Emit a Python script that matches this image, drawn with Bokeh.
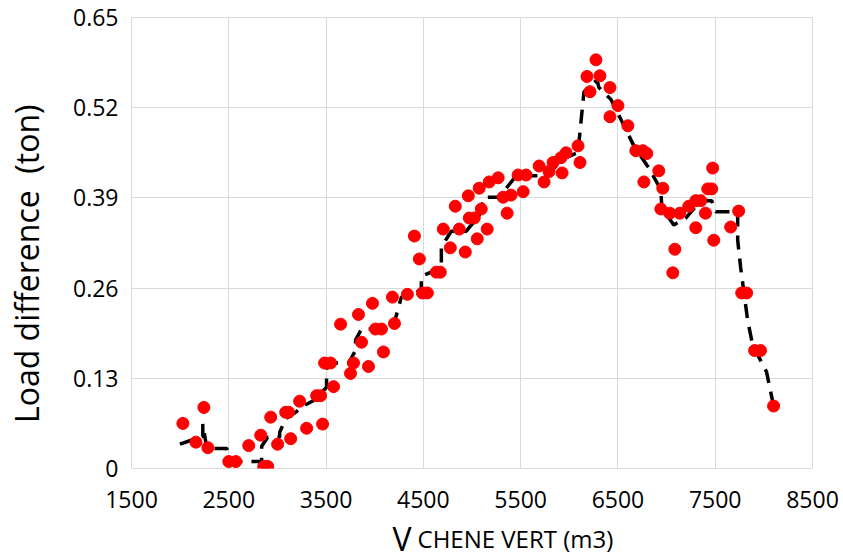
from bokeh.plotting import figure
from bokeh.models import FixedTicker, Range1d
from bokeh.layouts import column
from bokeh.core.properties import value
from bokeh.embed import file_html
from bokeh.resources import INLINE

# ---- data ----
x_pts = [2028, 2162, 2244, 2285, 2500, 2572, 2705, 2828, 2859, 2900,
         2931, 3002, 3085, 3115, 3136, 3228, 3300, 3403, 3444, 3464,
         3485, 3546, 3577, 3649, 3751, 3782, 3833, 3864, 3936, 3977,
         4008, 4069, 4090, 4182, 4203, 4336, 4408, 4459, 4490, 4541,
         4633, 4674, 4705, 4777, 4828, 4869, 4931, 4962, 4972, 5023,
         5054, 5074, 5095, 5156, 5177, 5269, 5320, 5361, 5402, 5474,
         5526, 5556, 5690, 5741, 5792, 5833, 5915, 5926, 5967, 6090,
         6110, 6182, 6213, 6274, 6315, 6418, 6418, 6500, 6602, 6684,
         6756, 6797, 6767, 6920, 6941, 6961, 7033, 7064, 7085, 7136,
         7228, 7300, 7351, 7300, 7400, 7423, 7464, 7474, 7485, 7659,
         7741, 7772, 7823, 7905, 7966, 8100]
y_pts = [0.065, 0.038, 0.088, 0.030, 0.010, 0.010, 0.033, 0.048, 0.003, 0.003,
         0.074, 0.035, 0.081, 0.081, 0.043, 0.097, 0.058, 0.105, 0.105, 0.064,
         0.152, 0.152, 0.118, 0.208, 0.137, 0.152, 0.222, 0.182, 0.147, 0.238,
         0.201, 0.201, 0.168, 0.247, 0.209, 0.251, 0.335, 0.302, 0.253, 0.253,
         0.283, 0.283, 0.345, 0.318, 0.378, 0.345, 0.312, 0.393, 0.361, 0.361,
         0.331, 0.404, 0.374, 0.345, 0.413, 0.419, 0.391, 0.368, 0.394, 0.423,
         0.399, 0.423, 0.436, 0.413, 0.428, 0.441, 0.448, 0.426, 0.455, 0.465,
         0.441, 0.565, 0.543, 0.589, 0.566, 0.549, 0.507, 0.523, 0.494, 0.458,
         0.458, 0.454, 0.413, 0.429, 0.374, 0.404, 0.368, 0.282, 0.316, 0.368,
         0.378, 0.386, 0.386, 0.347, 0.368, 0.403, 0.403, 0.433, 0.329, 0.348,
         0.371, 0.253, 0.253, 0.170, 0.170, 0.090]

trend_x = [1997, 2100, 2233, 2233, 2274, 2479, 2531, 2838, 2838, 2900,
           3023, 3023, 3085, 3187, 3279, 3372, 3505, 3505, 3587, 3731,
           3803, 3803, 3864, 3987, 4203, 4274, 4479, 4479, 4685, 4685,
           4787, 4941, 5074, 5126, 5279, 5454, 5751, 5967, 6100, 6100,
           6151, 6285, 6305, 6428, 6531, 6664, 6818, 6941, 6951, 7074,
           7197, 7351, 7464, 7505, 7731, 7731, 7762, 7833, 7885, 8028, 8100]
trend_y = [0.035, 0.040, 0.046, 0.064, 0.029, 0.029, 0.010, 0.010, 0.032, 0.045,
           0.045, 0.052, 0.072, 0.081, 0.091, 0.098, 0.117, 0.144, 0.152, 0.152,
           0.170, 0.185, 0.201, 0.201, 0.211, 0.247, 0.257, 0.277, 0.289, 0.319,
           0.342, 0.342, 0.365, 0.391, 0.391, 0.422, 0.422, 0.448, 0.456, 0.471,
           0.543, 0.560, 0.549, 0.532, 0.503, 0.465, 0.433, 0.402, 0.376, 0.351,
           0.361, 0.386, 0.386, 0.370, 0.370, 0.329, 0.289, 0.214, 0.178, 0.139, 0.090]

x_ticks = [1500, 2500, 3500, 4500, 5500, 6500, 7500, 8500]
y_ticks = [0, 0.13, 0.26, 0.39, 0.52, 0.65]
y_tick_labels = ["0", "0.13", "0.26", "0.39", "0.52", "0.65"]

x_title_main = "V"
x_title_sub = "CHENE VERT (m3)"
y_title = "Load difference\u00a0 (ton)" + "\u00a0" * 5

FONT = "Open Sans"
GRID = "#d9d9d9"

p = figure(frame_width=681, frame_height=451,
           min_border_left=131, min_border_right=31,
           min_border_top=17, min_border_bottom=0,
           x_range=(1500, 8500), y_range=(0, 0.65),
           output_backend="svg", toolbar_location=None,
           background_fill_color="white", border_fill_color="white")

p.outline_line_color = GRID
p.xgrid.grid_line_color = GRID
p.ygrid.grid_line_color = GRID
p.xgrid.ticker = FixedTicker(ticks=x_ticks)
p.ygrid.ticker = FixedTicker(ticks=y_ticks)

p.xaxis.ticker = FixedTicker(ticks=x_ticks)
p.yaxis.ticker = FixedTicker(ticks=y_ticks)
p.yaxis.major_label_overrides = {t: s for t, s in zip(y_ticks, y_tick_labels)}
for ax in (p.xaxis, p.yaxis):
    ax.axis_line_color = None
    ax.major_tick_line_color = None
    ax.minor_tick_line_color = None
    ax.major_tick_out = 0
    ax.major_tick_in = 0
    ax.minor_tick_out = 0
    ax.minor_tick_in = 0
    ax.major_label_text_font = FONT
    ax.major_label_text_font_size = "23px"
    ax.major_label_text_color = "black"
p.xaxis.major_label_standoff = 22
p.yaxis.major_label_standoff = 13
# a little blank room under the x tick labels
p.xaxis.axis_label = "\u00a0"
p.xaxis.axis_label_text_font_size = "1px"
p.xaxis.axis_label_standoff = 0

p.yaxis.axis_label = y_title
p.yaxis.axis_label_text_font = FONT
p.yaxis.axis_label_text_font_size = "32px"
p.yaxis.axis_label_text_font_style = "normal"
p.yaxis.axis_label_text_color = "black"
p.yaxis.axis_label_standoff = 22

p.line(trend_x, trend_y, line_color="black", line_width=3.5, line_dash="14 9")
p.scatter(x_pts, y_pts, marker="circle", size=12, fill_color="#ff0000",
          line_color="#ff0000")

# strip below the chart, sharing the x scale, carrying the x title
p2 = figure(frame_width=681, frame_height=60,
            min_border_left=131, min_border_right=31,
            min_border_top=0, min_border_bottom=0,
            x_range=p.x_range, y_range=Range1d(60, 0),
            x_axis_type=None, y_axis_type=None,
            output_backend="svg", toolbar_location=None,
            background_fill_color="white", border_fill_color="white")
p2.outline_line_color = None
p2.grid.visible = False
p2.text(x=[4183], y=[24], text=[x_title_main], text_font=value(FONT),
        text_font_size="32px", text_color="black",
        text_baseline="alphabetic", text_align="left")
p2.text(x=[4440], y=[24], text=[x_title_sub], text_font=value(FONT),
        text_font_size="24px", text_color="black",
        text_baseline="alphabetic", text_align="left")

layout = column(p, p2, spacing=0)
open("out.html", "w").write(file_html(layout, INLINE))
